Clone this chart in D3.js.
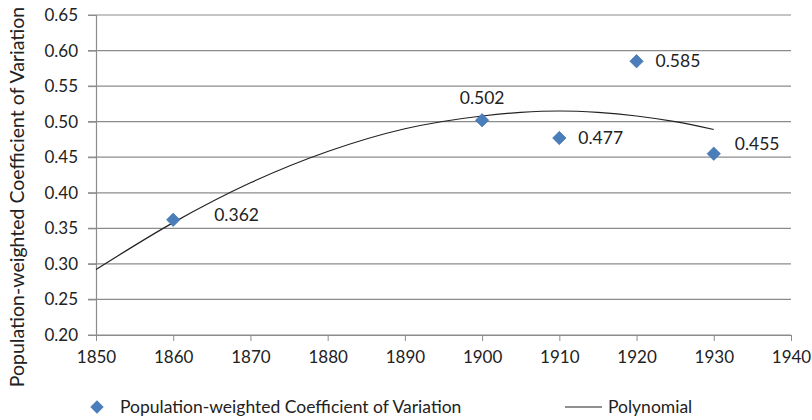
<!DOCTYPE html>
<html>
<head>
<meta charset="utf-8">
<script src="https://cdn.jsdelivr.net/npm/d3@7"></script>
<style>
  body { margin: 0; background: #fff; }
  svg text { font-family: Lato, "Open Sans", sans-serif; fill: #222; }
</style>
</head>
<body>
<svg id="chart" width="812" height="420"></svg>
<script>
// observed values
const years = [1860, 1900, 1910, 1920, 1930];
const cv = [0.362, 0.502, 0.477, 0.585, 0.455];

// polynomial trendline
const trendYears = [1850, 1860, 1870, 1880, 1890, 1900, 1905, 1910, 1915, 1920, 1925, 1930];
const trendVals = [0.292, 0.358, 0.414, 0.458, 0.490, 0.508, 0.513, 0.515, 0.513, 0.508, 0.500, 0.489];

const yTicks = [0.20, 0.25, 0.30, 0.35, 0.40, 0.45, 0.50, 0.55, 0.60, 0.65];
const xTicks = [1850, 1860, 1870, 1880, 1890, 1900, 1910, 1920, 1930, 1940];

// where each data label sits relative to its marker [dx, dy, anchor]
const labelOffsets = [[41, 1, 'start'], [0, -16, 'middle'], [19, 6, 'start'], [19, 6, 'start'], [21, -4, 'start']];

const svg = d3.select('#chart');
const plotLeft = 96, plotRight = 791, plotTop = 15, plotBottom = 335;
const fs = 17.5;

const x = d3.scaleLinear().domain([1850, 1940]).range([plotLeft, plotRight]);
const y = d3.scaleLinear().domain([0.20, 0.65]).range([plotBottom, plotTop]);

// gridlines
svg.append('g')
    .selectAll('line')
    .data(yTicks)
    .enter()
    .append('line')
    .attr('x1', plotLeft - 8)
    .attr('x2', plotRight)
    .attr('y1', d => y(d))
    .attr('y2', d => y(d))
    .attr('stroke', '#8c8c8c')
    .attr('stroke-width', 1.2);

// y axis
const yAxis = svg.append('g')
    .attr('transform', 'translate(' + plotLeft + ',0)')
    .call(d3.axisLeft(y).tickValues(yTicks).tickFormat(d3.format('.2f')).tickSize(8).tickPadding(10));
yAxis.select('.domain').attr('stroke', '#8c8c8c').attr('stroke-width', 1.2);
yAxis.selectAll('line').attr('stroke', '#8c8c8c');
yAxis.selectAll('text').attr('font-size', 17).attr('fill', '#222');

// x axis
const xAxis = svg.append('g')
    .attr('transform', 'translate(0,' + plotBottom + ')')
    .call(d3.axisBottom(x).tickValues(xTicks).tickFormat(d3.format('d')).tickSizeInner(6).tickSizeOuter(0).tickPadding(10));
xAxis.select('.domain').attr('stroke', '#8c8c8c').attr('stroke-width', 1.2);
xAxis.selectAll('line').attr('stroke', '#8c8c8c');
xAxis.selectAll('text').attr('font-size', 17).attr('fill', '#222');

// trendline
const line = d3.line()
    .x((d, i) => x(trendYears[i]))
    .y(d => y(d))
    .curve(d3.curveMonotoneX);

svg.append('path')
    .datum(trendVals)
    .attr('d', line)
    .attr('fill', 'none')
    .attr('stroke', '#222')
    .attr('stroke-width', 1.2);

// points
const diamond = d3.symbol().type(d3.symbolSquare).size(90);

svg.append('g')
    .selectAll('path')
    .data(cv)
    .enter()
    .append('path')
    .attr('d', diamond)
    .attr('transform', (d, i) => 'translate(' + x(years[i]) + ',' + y(d) + ') rotate(45)')
    .attr('fill', '#4a7ebb')
    .attr('stroke', '#3d6fa8')
    .attr('stroke-width', 0.6);

// data labels
svg.append('g')
    .selectAll('text')
    .data(cv)
    .enter()
    .append('text')
    .attr('x', (d, i) => x(years[i]) + labelOffsets[i][0])
    .attr('y', (d, i) => y(d) + labelOffsets[i][1])
    .attr('text-anchor', (d, i) => labelOffsets[i][2])
    .attr('font-size', fs)
    .text(d => d3.format('.3f')(d));

// y title
svg.append('text')
    .attr('transform', 'translate(24,' + 197 + ') rotate(-90)')
    .attr('text-anchor', 'middle')
    .attr('font-size', 19.5)
    .text('Population-weighted Coefficient of Variation');

// legend
const legend = svg.append('g').attr('transform', 'translate(0,407)');
legend.append('path')
    .attr('d', diamond)
    .attr('transform', 'translate(97,0) rotate(45)')
    .attr('fill', '#4a7ebb');
legend.append('text')
    .attr('x', 120)
    .attr('y', 6)
    .attr('font-size', fs)
    .text('Population-weighted Coefficient of Variation');
legend.append('line')
    .attr('x1', 565)
    .attr('x2', 602)
    .attr('y1', 0)
    .attr('y2', 0)
    .attr('stroke', '#222')
    .attr('stroke-width', 1.2);
legend.append('text')
    .attr('x', 608)
    .attr('y', 6)
    .attr('font-size', fs)
    .text('Polynomial');
</script>
</body>
</html>
